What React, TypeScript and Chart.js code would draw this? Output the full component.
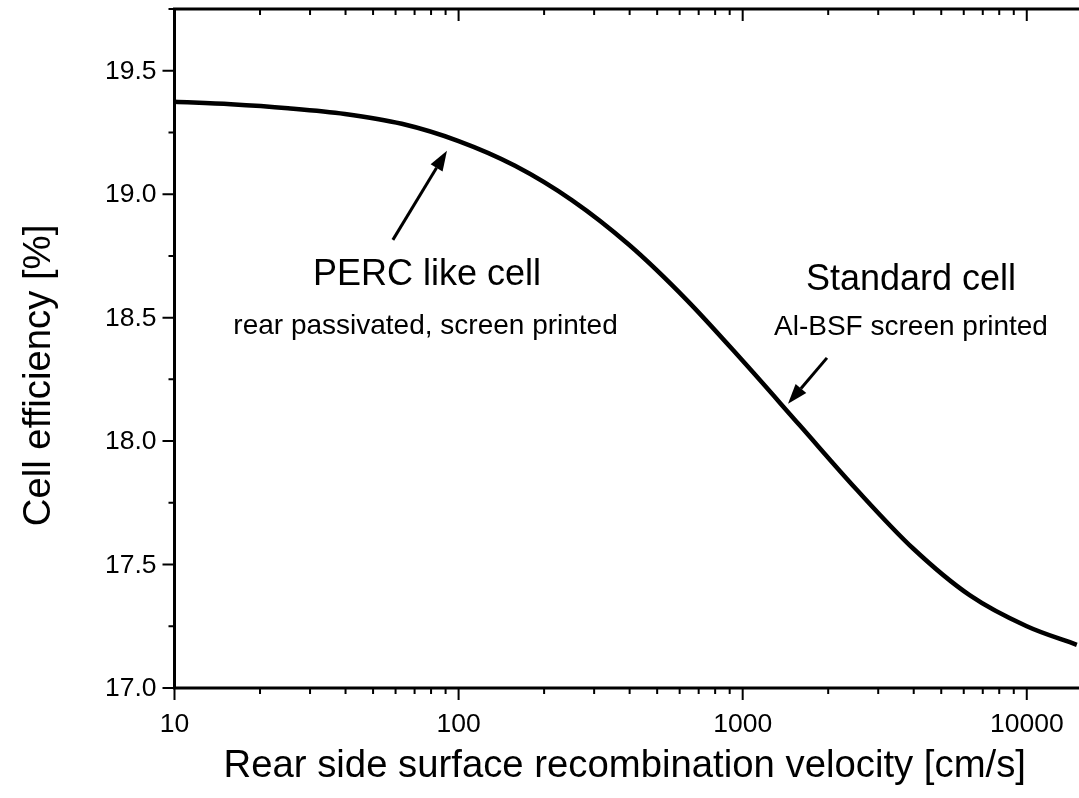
import { useEffect, useRef } from 'react';
import { Chart, registerables } from 'chart.js';

Chart.register(...registerables);

// Rear side surface recombination velocity [cm/s]
const velocity = [10, 15.8, 25.1, 39.8, 63.1, 100, 158, 251, 398, 631, 1000, 1585, 2512, 3981, 6310, 10000, 15000];
// Cell efficiency [%]
const efficiency = [19.374, 19.364, 19.348, 19.325, 19.285, 19.215, 19.115, 18.975, 18.795, 18.575, 18.325, 18.065, 17.805, 17.565, 17.375, 17.25, 17.175];

const xMajorTicks = [10, 100, 1000, 10000];
const xMajorLabels = ['10', '100', '1000', '10000'];
const xMinorTicks = [20, 30, 40, 50, 60, 70, 80, 90, 200, 300, 400, 500, 600, 700, 800, 900, 2000, 3000, 4000, 5000, 6000, 7000, 8000, 9000];
const yMajorTicks = [17.0, 17.5, 18.0, 18.5, 19.0, 19.5];
const yMajorLabels = ['17.0', '17.5', '18.0', '18.5', '19.0', '19.5'];
const yMinorTicks = [17.25, 17.75, 18.25, 18.75, 19.25, 19.75];

const X_MIN = 10;
const X_MAX = 15270;
const Y_MIN = 17.0;
const Y_MAX = 19.75;

// annotation texts (anchored in data coordinates)
const labelTexts = ['PERC like cell', 'rear passivated, screen printed', 'Standard cell', 'Al-BSF screen printed'];
const labelX = [77.4, 76.5, 3912, 3912];
const labelY = [18.633, 18.434, 18.613, 18.43];
const labelSizes = [36, 28, 36, 28];

// arrows: tail -> tip in data coordinates
const arrowTailX = [58.7, 1980];
const arrowTailY = [18.815, 18.337];
const arrowTipX = [91, 1444];
const arrowTipY = [19.176, 18.151];

const FONT = '"Liberation Sans", Arial, Helvetica, sans-serif';

const axesPlugin = {
  id: 'originAxes',
  afterDraw(chart: any) {
    const { ctx, chartArea } = chart;
    const xs = chart.scales.x;
    const ys = chart.scales.y;
    const L = chartArea.left;
    const R = chartArea.right;
    const T = chartArea.top;
    const B = chartArea.bottom;
    ctx.save();
    ctx.strokeStyle = '#000';
    ctx.fillStyle = '#000';
    ctx.lineCap = 'butt';

    // axis lines
    ctx.lineWidth = 3;
    ctx.beginPath();
    ctx.moveTo(L, T);
    ctx.lineTo(R + 2, T);
    ctx.moveTo(L, T - 1.5);
    ctx.lineTo(L, B + 1.5);
    ctx.moveTo(L, B);
    ctx.lineTo(R + 2, B);
    ctx.stroke();

    // ticks
    ctx.lineWidth = 2;
    ctx.beginPath();
    xMajorTicks.forEach((v) => {
      const p = xs.getPixelForValue(v);
      ctx.moveTo(p, B); ctx.lineTo(p, B + 12);
      ctx.moveTo(p, T); ctx.lineTo(p, T + 12);
    });
    xMinorTicks.forEach((v) => {
      const p = xs.getPixelForValue(v);
      ctx.moveTo(p, B); ctx.lineTo(p, B + 6);
      ctx.moveTo(p, T); ctx.lineTo(p, T + 6);
    });
    yMajorTicks.forEach((v) => {
      const p = ys.getPixelForValue(v);
      ctx.moveTo(L, p); ctx.lineTo(L - 12, p);
    });
    yMinorTicks.forEach((v) => {
      const p = ys.getPixelForValue(v);
      ctx.moveTo(L, p); ctx.lineTo(L - 6, p);
    });
    ctx.stroke();

    // tick labels
    ctx.font = `26.5px ${FONT}`;
    ctx.textAlign = 'center';
    ctx.textBaseline = 'alphabetic';
    xMajorTicks.forEach((v, i) => {
      ctx.fillText(xMajorLabels[i], xs.getPixelForValue(v), B + 44);
    });
    ctx.textAlign = 'right';
    ctx.textBaseline = 'middle';
    yMajorTicks.forEach((v, i) => {
      ctx.fillText(yMajorLabels[i], L - 18, ys.getPixelForValue(v) + 1);
    });

    // axis titles
    ctx.font = `38.3px ${FONT}`;
    ctx.textAlign = 'center';
    ctx.textBaseline = 'alphabetic';
    ctx.fillText('Rear side surface recombination velocity [cm/s]', (L + R) / 2 - 2, B + 89);
    ctx.save();
    ctx.translate(50, (T + B) / 2 + 27);
    ctx.rotate(-Math.PI / 2);
    ctx.fillText('Cell efficiency [%]', 0, 0);
    ctx.restore();

    // annotation texts
    labelTexts.forEach((t, i) => {
      ctx.font = `${labelSizes[i]}px ${FONT}`;
      ctx.fillText(t, xs.getPixelForValue(labelX[i]), ys.getPixelForValue(labelY[i]));
    });

    // arrows
    arrowTailX.forEach((_, i) => {
      const x0 = xs.getPixelForValue(arrowTailX[i]);
      const y0 = ys.getPixelForValue(arrowTailY[i]);
      const x1 = xs.getPixelForValue(arrowTipX[i]);
      const y1 = ys.getPixelForValue(arrowTipY[i]);
      const ang = Math.atan2(y1 - y0, x1 - x0);
      const headLen = 20;
      const headW = 7;
      const bx = x1 - headLen * Math.cos(ang);
      const by = y1 - headLen * Math.sin(ang);
      ctx.lineWidth = 3;
      ctx.beginPath();
      ctx.moveTo(x0, y0);
      ctx.lineTo(bx, by);
      ctx.stroke();
      ctx.beginPath();
      ctx.moveTo(x1, y1);
      ctx.lineTo(bx + headW * Math.sin(ang), by - headW * Math.cos(ang));
      ctx.lineTo(bx - headW * Math.sin(ang), by + headW * Math.cos(ang));
      ctx.closePath();
      ctx.fill();
    });

    ctx.restore();
  },
};

export default function App() {
  const ref = useRef<HTMLCanvasElement>(null);
  useEffect(() => {
    const canvas = ref.current;
    if (!canvas) return;
    const chart = new Chart(canvas, {
      type: 'line',
      data: {
        datasets: [
          {
            data: velocity.map((v, i) => ({ x: v, y: efficiency[i] })),
            borderColor: '#000',
            borderWidth: 4.5,
            pointRadius: 0,
            cubicInterpolationMode: 'monotone',
            fill: false,
          },
        ],
      },
      options: {
        responsive: false,
        animation: false,
        devicePixelRatio: 1,
        events: [],
        layout: { padding: { left: 174.5, top: 9, right: 0, bottom: 110 } },
        plugins: { legend: { display: false }, tooltip: { enabled: false } },
        scales: {
          x: { type: 'logarithmic', min: X_MIN, max: X_MAX, display: false },
          y: { type: 'linear', min: Y_MIN, max: Y_MAX, display: false },
        },
      },
      plugins: [axesPlugin],
    } as any);
    return () => chart.destroy();
  }, []);
  return (
    <div style={{ position: 'fixed', left: 0, top: 0, width: 1079, height: 798, overflow: 'hidden', background: '#fff' }}>
      <canvas ref={ref} width={1079} height={798} style={{ display: 'block', width: 1079, height: 798 }} />
    </div>
  );
}
